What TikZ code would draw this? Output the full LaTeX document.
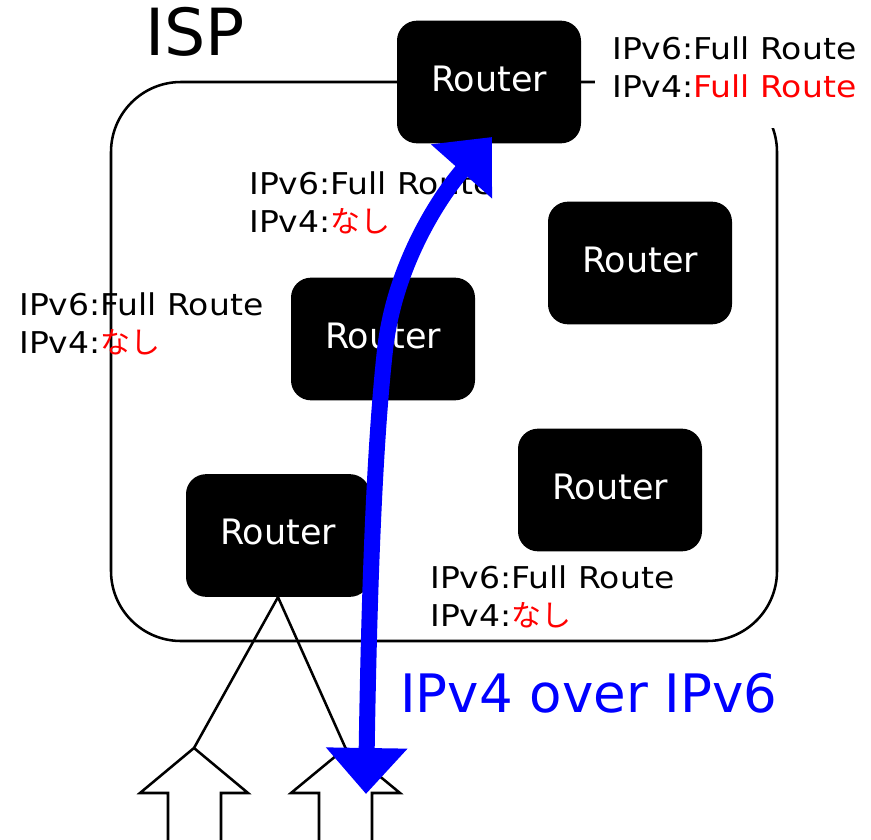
\documentclass[tikz,border=0pt]{standalone}
\usepackage{fontspec}
\setmainfont{DejaVu Sans}
\newfontfamily\lblfont[FakeStretch=1.1]{DejaVu Sans}
\newfontfamily\kanafont{Noto Sans CJK JP}
\usetikzlibrary{arrows.meta}
\definecolor{tunnelblue}{RGB}{0,0,255}
\definecolor{alertred}{RGB}{255,0,0}
\begin{document}
\begin{tikzpicture}[x=0.75pt,y=-0.75pt,
  router/.style={fill=black, rounded corners=15pt, minimum width=138pt,
    minimum height=92pt, inner sep=0pt, text=white, text depth=5pt,
    font=\fontsize{26.25pt}{30pt}\selectfont},
  routelbl/.style={anchor=base west, inner sep=0pt,
    font=\lblfont\fontsize{22.5pt}{28pt}\selectfont},
  edge/.style={line width=1.9pt},
  blockarrow/.style={draw=black, fill=white, line width=1.9pt, line join=miter},
  tunnel/.style={tunnelblue, line width=12pt,
    {Triangle[length=34.5pt,width=59pt]}-{Triangle[length=34.5pt,width=59pt]}}
]
\useasboundingbox (0,0) rectangle (871,839);

% ISP domain
\node[draw, edge, rounded corners=52.5pt, minimum width=499.5pt,
  minimum height=419.25pt, inner sep=0pt] (isp) at (444,361.5) {};
\node[anchor=base west, inner sep=0pt, font=\fontsize{48.75pt}{52pt}\selectfont]
  (ispLabel) at (145,55) {ISP};

% white backing of the border router's table note
\fill[white] (595,25) rectangle (871,128);

% routing tables
\node[routelbl] (tr6) at (612,59) {IPv6:Full Route};
\node[routelbl] (tr4) at (612,97) {IPv4:\textcolor{alertred}{Full Route}};
\node[routelbl] (um6) at (249,194) {IPv6:Full Route};
\node[routelbl] (um4) at (249,232) {IPv4:\textcolor{alertred}{\kanafont なし}};
\node[routelbl] (lf6) at (19,315) {IPv6:Full Route};
\node[routelbl] (lf4) at (19,353) {IPv4:\textcolor{alertred}{\kanafont なし}};
\node[routelbl] (bt6) at (430,588) {IPv6:Full Route};
\node[routelbl] (bt4) at (430,626) {IPv4:\textcolor{alertred}{\kanafont なし}};

% routers
\node[router] (r1) at (489,82) {Router};
\node[router] (r2) at (640,263) {Router};
\node[router] (r3) at (383,339) {Router};
\node[router] (r4) at (610,490) {Router};
\node[router] (r5) at (278,535.5) {Router};

% customer uplinks
\coordinate (tipL) at (194,748);
\coordinate (tipR) at (345.5,748);
\draw[edge] (r5.south) -- (tipL);
\draw[edge] (r5.south) -- (tipR);
\draw[blockarrow] (tipL) -- (248,793) -- (221,793) -- (221,850) -- (168,850)
  -- (168,793) -- (140,793) -- cycle;
\draw[blockarrow] (tipR) -- (400,793) -- (372,793) -- (372,850) -- (319,850)
  -- (319,793) -- (291,793) -- cycle;

% IPv4 over IPv6 tunnel
\coordinate (tunnelLow) at (366,794);
\coordinate (tunnelBend) at (385,350);
\coordinate (tunnelHigh) at (492,137);
\draw[tunnel] (tunnelLow) .. controls (369,600) and (374,450) .. (tunnelBend)
  .. controls (395,260) and (445,190) .. (tunnelHigh);
\node[anchor=base west, inner sep=0pt, text=tunnelblue,
  font=\fontsize{39.75pt}{44pt}\selectfont] (tunnelLabel) at (400,712)
  {IPv4 over IPv6};
\end{tikzpicture}
\end{document}
